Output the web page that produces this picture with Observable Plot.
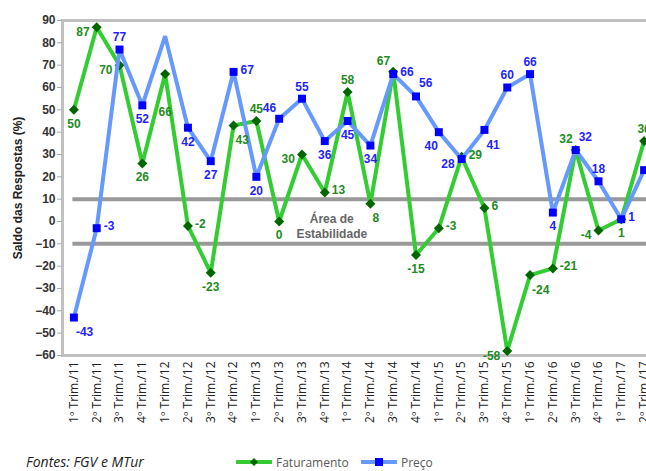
<!DOCTYPE html>
<html>
<head>
<meta charset="utf-8">
<script src="https://cdn.jsdelivr.net/npm/d3@7"></script>
<script src="https://cdn.jsdelivr.net/npm/@observablehq/plot@0.6"></script>
<style>
  html, body { margin: 0; padding: 0; background: #fff; overflow: hidden; width: 646px; height: 471px; }
  #wrap { position: relative; width: 646px; height: 471px; overflow: hidden; }
  #chart { width: 700px; }
  #chart svg { max-width: none !important; }
  #legend { position: absolute; left: 0; top: 452px; width: 646px; height: 20px; font-family: "Open Sans", sans-serif; }
  .src { position: absolute; left: 26px; top: 0px; font-size: 14px; font-style: italic; color: #222; line-height: 20px; }
  .item { position: absolute; top: 0; height: 20px; display: flex; align-items: center; font-size: 12px; color: #595959; }
  .item svg { margin-right: 4px; }
</style>
</head>
<body>
<div id="wrap">
  <div id="chart"></div>
  <div id="legend">
    <span class="src">Fontes: FGV e MTur</span>
    <span class="item" style="left:236px">
      <svg width="36" height="12"><line x1="1" y1="6" x2="35" y2="6" stroke="#33cc33" stroke-width="4" stroke-linecap="round"/><path d="M18,2 L22,6 L18,10 L14,6 Z" fill="#006600"/></svg>Faturamento
    </span>
    <span class="item" style="left:361px">
      <svg width="36" height="12"><line x1="1" y1="6" x2="35" y2="6" stroke="#6699ff" stroke-width="4" stroke-linecap="round"/><rect x="14" y="2" width="8" height="8" fill="#0000ff"/></svg>Preço
    </span>
  </div>
</div>
<script>
const categories = [
  "1º Trim./11","2º Trim./11","3º Trim./11","4º Trim./11",
  "1º Trim./12","2º Trim./12","3º Trim./12","4º Trim./12",
  "1º Trim./13","2º Trim./13","3º Trim./13","4º Trim./13",
  "1º Trim./14","2º Trim./14","3º Trim./14","4º Trim./14",
  "1º Trim./15","2º Trim./15","3º Trim./15","4º Trim./15",
  "1º Trim./16","2º Trim./16","3º Trim./16","4º Trim./16",
  "1º Trim./17","2º Trim./17"
];
const faturamento = [50, 87, 70, 26, 66, -2, -23, 43, 45, 0, 30, 13, 58, 8, 67, -15, -3, 29, 6, -58, -24, -21, 32, -4, 1, 36];
const preco       = [-43, -3, 77, 52, 83, 42, 27, 67, 20, 46, 55, 36, 45, 34, 66, 56, 40, 28, 41, 60, 66, 4, 32, 18, 1, 23];
const yTicks = [-60, -50, -40, -30, -20, -10, 0, 10, 20, 30, 40, 50, 60, 70, 80, 90];
const stabilityLimits = [10, -10];
const stabilityText = "Área de\nEstabilidade";

// label placement per point ("" = point shown without marker/label)
const fatLabelSide = ["S","W","W","S","SS","E","S","SE","N","S","W","E","N","SE","NW","S","E","E","E","W","SE","E","NW","W","S","N"];
const precoLabelSide = ["SE","E","N","S","","S","S","E","S","NW","N","S","S","S","E","NE","SW","W","SE","N","N","S","NE","N","E","SE"];

const fat = categories.map((c, i) => ({cat: c, v: faturamento[i], side: fatLabelSide[i]}));
const pre = categories.map((c, i) => ({cat: c, v: preco[i], side: precoLabelSide[i]}));

const offsets = {
  N:  {dx: 0,  dy: -12, a: "middle"},
  S:  {dx: 0,  dy: 14,  a: "middle"},
  SS: {dx: 0,  dy: 38,  a: "middle"},
  E:  {dx: 7,  dy: -2,  a: "start"},
  W:  {dx: -7, dy: 5,   a: "end"},
  NE: {dx: 3,  dy: -13, a: "start"},
  NW: {dx: -3, dy: -11, a: "end"},
  SE: {dx: 2,  dy: 15,  a: "start"},
  SW: {dx: -1, dy: 14,  a: "end"}
};

function labelMarks(data, color) {
  return Object.entries(offsets).map(([k, o]) =>
    Plot.text(data.filter(d => d.side === k), {
      x: "cat", y: "v", text: d => String(d.v),
      dx: o.dx, dy: o.dy, textAnchor: o.a,
      fill: color, fontSize: 12, fontWeight: "bold",
      fontFamily: "Liberation Sans, Arial, sans-serif"
    })
  );
}

const chart = Plot.plot({
  width: 655,
  height: 445,
  marginLeft: 62,
  marginRight: 0,
  marginTop: 20,
  marginBottom: 90,
  style: {fontFamily: "Liberation Sans, Arial, sans-serif", background: "#fff", maxWidth: "none"},
  x: {type: "point", domain: categories, padding: 0.5, round: false, axis: null},
  y: {domain: [-60, 90], axis: null},
  marks: [
    Plot.frame({stroke: "#c0c0c0", strokeWidth: 3}),
    Plot.axisY({ticks: yTicks, tickSize: 5, tickPadding: 2, stroke: "#aaaaaa", fill: "#333",
      fontSize: 12, fontWeight: "bold", fontFamily: "Liberation Sans, Arial, sans-serif", label: null}),
    Plot.axisX({tickRotate: -90, tickSize: 0, tickPadding: 6, fill: "#222",
      fontSize: 12, fontFamily: "Open Sans, sans-serif", label: null}),
    Plot.text(["Saldo das Respostas (%)"], {frameAnchor: "left", text: d => d, rotate: -90, dx: -44,
      textAnchor: "middle",
      fontSize: 12, fontWeight: "bold", fill: "#222", fontFamily: "Liberation Sans, Arial, sans-serif"}),
    Plot.ruleY(stabilityLimits, {y: d => d, x1: () => categories[0], x2: () => categories[categories.length - 1],
      stroke: "#999999", strokeWidth: 4, insetLeft: -1, insetRight: -20}),
    Plot.text([stabilityText], {x: () => categories[11], y: () => -2, text: d => d, dx: 7, lineHeight: 1.2,
      fill: "#666", fontSize: 12, fontWeight: "bold", fontFamily: "Liberation Sans, Arial, sans-serif"}),
    Plot.line(fat, {x: "cat", y: "v", stroke: "#33cc33", strokeWidth: 4, strokeLinejoin: "miter"}),
    Plot.dot(fat.filter(d => d.side !== ""), {x: "cat", y: "v", symbol: "diamond2", r: 4.5, fill: "#006600", stroke: "none"}),
    Plot.line(pre, {x: "cat", y: "v", stroke: "#6699ff", strokeWidth: 4, strokeLinejoin: "miter"}),
    Plot.dot(pre.filter(d => d.side !== ""), {x: "cat", y: "v", symbol: "square", r: 4.5, fill: "#0000ff", stroke: "none"}),
    ...labelMarks(fat, "#1e8c1e"),
    ...labelMarks(pre, "#1f1fff")
  ]
});
document.getElementById("chart").appendChild(chart);
</script>
</body>
</html>
